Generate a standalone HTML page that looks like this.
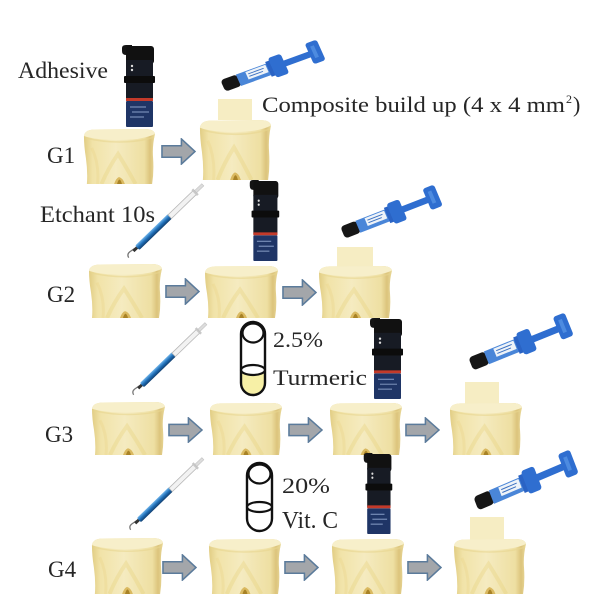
<!DOCTYPE html>
<html><head><meta charset="utf-8"><style>
html,body{margin:0;padding:0;background:#fff;}
svg{display:block;}
text{font-family:"Liberation Serif",serif;fill:#262626;}
</style></head><body>
<svg width="600" height="599" viewBox="0 0 600 599" xmlns="http://www.w3.org/2000/svg">
<defs>
<linearGradient id="tg" x1="0" x2="1" y1="0" y2="0">
<stop offset="0" stop-color="#e1cd84"/>
<stop offset="0.12" stop-color="#f1e3a8"/>
<stop offset="0.45" stop-color="#f5ebc0"/>
<stop offset="0.85" stop-color="#eedfa2"/>
<stop offset="0.93" stop-color="#dcc47c"/>
<stop offset="1" stop-color="#e9d99a"/>
</linearGradient>
<linearGradient id="bl" x1="0" x2="0" y1="0" y2="1">
<stop offset="0" stop-color="#6fb4ea"/>
<stop offset="0.5" stop-color="#1f6fb8"/>
<stop offset="1" stop-color="#123f6f"/>
</linearGradient>
<symbol id="tooth" viewBox="0 0 76 56" preserveAspectRatio="none">
<path d="M2,8 Q3,2 12,1.5 L64,1 Q74,1 75,6 Q72,18 73,30 Q74,44 72,56 L5,56 Q6,44 4,30 Q2,18 2,8Z" fill="url(#tg)"/>
<path d="M2,8 Q3,2 12,1.5 L64,1 Q74,1 75,6 Q62,12 38,12 Q14,12 2,8Z" fill="#f7efca"/>
<path d="M4,10 Q20,14 38,14 Q60,14 74,9" fill="none" stroke="#e8d690" stroke-width="1.5" opacity="0.6"/>
<path d="M20,56 Q27,40 37,26 Q46,40 55,56" fill="none" stroke="#e4cc72" stroke-width="4" opacity="0.3"/>
<path d="M10,20 Q18,36 16,56" fill="none" stroke="#ead58a" stroke-width="3" opacity="0.35"/>
<path d="M33,56 Q35,50 38,49 Q42,50 44,56Z" fill="#d5b050" opacity="0.85"/>
<path d="M36,56 Q37,52 38.5,51.5 Q40,52 41,56Z" fill="#a88226"/>
</symbol>
<symbol id="arrow" viewBox="0 0 36 28" preserveAspectRatio="none">
<path d="M1,8 H21 V1 L35,14 L21,27 V20 H1Z" fill="#a3a6aa" stroke="#5b7b9b" stroke-width="1.6" stroke-linejoin="miter"/>
</symbol>
<symbol id="bottle" viewBox="0 0 37 83" preserveAspectRatio="none">
<path d="M2,3 Q2,0 6,0 L12,0 L12,10 L6,10 Q2,10 2,6Z" fill="#141414"/>
<rect x="6" y="1" width="28" height="18" rx="3" fill="#111"/>
<rect x="6" y="15" width="27" height="40" fill="#171b24"/>
<rect x="4" y="31" width="31" height="7" rx="1" fill="#0c0c0c"/>
<circle cx="12" cy="21" r="1.2" fill="#ddd"/>
<circle cx="12" cy="25" r="1.2" fill="#ddd"/>
<rect x="6" y="53" width="27" height="3" fill="#c33a2a"/>
<rect x="6" y="56" width="27" height="26" rx="1" fill="#1f3566"/>
<line x1="10" y1="62" x2="26" y2="62" stroke="#8aa0c8" stroke-width="1"/>
<line x1="12" y1="67" x2="29" y2="67" stroke="#8aa0c8" stroke-width="1"/>
<line x1="10" y1="72" x2="24" y2="72" stroke="#8aa0c8" stroke-width="1"/>
</symbol>
<symbol id="comp" viewBox="0 0 115 60" preserveAspectRatio="none">
<g transform="translate(6,52) rotate(-22)">
<rect x="0" y="-7" width="18" height="14" rx="4" fill="#161616"/>
<rect x="17" y="-7" width="35" height="14" fill="#4a86d8"/>
<rect x="27" y="-6" width="22" height="9" fill="#eef3f8"/>
<line x1="29" y1="-3" x2="46" y2="-3" stroke="#3a6fc0" stroke-width="1"/>
<line x1="29" y1="0" x2="44" y2="0" stroke="#3a6fc0" stroke-width="1"/>
<rect x="50" y="-9" width="6" height="18" fill="#2a63c4"/>
<rect x="54" y="-12" width="14" height="24" rx="3" fill="#2f6ed0"/>
<rect x="66" y="-3.5" width="32" height="7" fill="#2f6ed0"/>
<rect x="95" y="-13" width="13" height="25" rx="3" fill="#2f6ed0"/>
<rect x="99" y="-8" width="4" height="14" fill="#4d8be0"/>
</g>
</symbol>
<symbol id="etch" viewBox="0 0 80 80" preserveAspectRatio="none">
<g transform="translate(2,76) rotate(-44)">
<path d="M0,1 Q1,-3 5,-2.5 L11,-1.5" fill="none" stroke="#777" stroke-width="1.3"/>
<rect x="8" y="-2" width="6" height="3" fill="#333"/>
<rect x="13" y="-3.2" width="46" height="6" rx="1.5" fill="url(#bl)"/>
<rect x="58" y="-2.5" width="35" height="5" fill="#f2f2f2" stroke="#b8b8b8" stroke-width="0.8"/>
<rect x="92" y="-4" width="2.5" height="8" fill="#c8c8c8"/>
<rect x="94" y="-1.5" width="10" height="3" fill="#dcdcdc" stroke="#bbb" stroke-width="0.5"/>
</g>
</symbol>
</defs>

<!-- Labels -->
<text x="18" y="78" font-size="23" textLength="90" lengthAdjust="spacingAndGlyphs">Adhesive</text>
<text x="262" y="112" font-size="22" textLength="303" lengthAdjust="spacingAndGlyphs">Composite build up (4 x 4 mm</text>
<text x="566" y="103" font-size="12">2</text>
<text x="573" y="112" font-size="22">)</text>
<text x="47" y="163" font-size="23">G1</text>
<text x="40" y="222" font-size="23" textLength="115" lengthAdjust="spacingAndGlyphs">Etchant 10s</text>
<text x="47" y="302" font-size="23">G2</text>
<text x="45" y="442" font-size="23">G3</text>
<text x="48" y="577" font-size="23">G4</text>
<text x="273" y="347" font-size="22" textLength="50" lengthAdjust="spacingAndGlyphs">2.5%</text>
<text x="273" y="385" font-size="22" textLength="94" lengthAdjust="spacingAndGlyphs">Turmeric</text>
<text x="282" y="493" font-size="22" textLength="48" lengthAdjust="spacingAndGlyphs">20%</text>
<text x="282" y="528" font-size="24" textLength="56" lengthAdjust="spacingAndGlyphs">Vit. C</text>

<!-- G1 row -->
<use href="#bottle" x="120" y="45" width="37" height="83"/>
<use href="#comp" x="217" y="40" width="113" height="53"/>
<use href="#tooth" x="82" y="128" width="74" height="56"/>
<use href="#arrow" x="161" y="138" width="35" height="27"/>
<rect x="218" y="99" width="34" height="21" fill="#f6edc3"/>
<use href="#tooth" x="198" y="119" width="74" height="61"/>

<!-- G2 row -->
<use href="#etch" x="126" y="181" width="80" height="80"/>
<use href="#bottle" x="248" y="180" width="33" height="82"/>
<use href="#comp" x="337" y="185" width="110" height="55"/>
<use href="#tooth" x="87" y="263" width="76" height="55"/>
<use href="#arrow" x="165" y="278" width="35" height="27"/>
<use href="#tooth" x="203" y="265" width="76" height="53"/>
<use href="#arrow" x="282" y="279" width="35" height="27"/>
<rect x="337" y="247" width="36" height="20" fill="#f6edc3"/>
<use href="#tooth" x="317" y="265" width="76" height="53"/>

<!-- G3 row -->
<use href="#etch" x="131" y="320" width="78" height="78"/>
<path d="M241,370 A12,5 0 0 0 265,370 L265,383 A12,12 0 0 1 241,383 Z" fill="#f7f0a6"/>
<rect x="241" y="322" width="24" height="73" rx="12" fill="none" stroke="#111" stroke-width="2.4"/>
<ellipse cx="253" cy="333" rx="10.5" ry="9.5" fill="none" stroke="#111" stroke-width="2.2"/>
<ellipse cx="253" cy="370" rx="12" ry="5" fill="none" stroke="#111" stroke-width="2.2"/>
<use href="#bottle" x="368" y="318" width="37" height="82"/>
<use href="#comp" x="465" y="313" width="113" height="59"/>
<use href="#tooth" x="90" y="401" width="76" height="54"/>
<use href="#arrow" x="168" y="417" width="35" height="26"/>
<use href="#tooth" x="208" y="402" width="75" height="53"/>
<use href="#arrow" x="288" y="417" width="35" height="26"/>
<use href="#tooth" x="328" y="402" width="75" height="53"/>
<use href="#arrow" x="405" y="417" width="35" height="26"/>
<rect x="465" y="382" width="34" height="22" fill="#f6edc3"/>
<use href="#tooth" x="448" y="402" width="75" height="53"/>

<!-- G4 row -->
<use href="#etch" x="128" y="455" width="78" height="78"/>
<rect x="247" y="463" width="25" height="68" rx="12.5" fill="none" stroke="#111" stroke-width="2.4"/>
<ellipse cx="259.5" cy="474" rx="11" ry="9.5" fill="none" stroke="#111" stroke-width="2.2"/>
<ellipse cx="259.5" cy="507" rx="12.5" ry="5" fill="none" stroke="#111" stroke-width="2.2"/>
<use href="#bottle" x="362" y="453" width="32" height="82"/>
<use href="#comp" x="470" y="450" width="113" height="62"/>
<use href="#tooth" x="90" y="537" width="74" height="57"/>
<use href="#arrow" x="162" y="554" width="35" height="27"/>
<use href="#tooth" x="207" y="538" width="75" height="56"/>
<use href="#arrow" x="284" y="554" width="35" height="27"/>
<use href="#tooth" x="330" y="538" width="75" height="56"/>
<use href="#arrow" x="407" y="554" width="35" height="27"/>
<rect x="470" y="517" width="34" height="23" fill="#f6edc3"/>
<use href="#tooth" x="452" y="538" width="75" height="56"/>
</svg>
</body></html>
